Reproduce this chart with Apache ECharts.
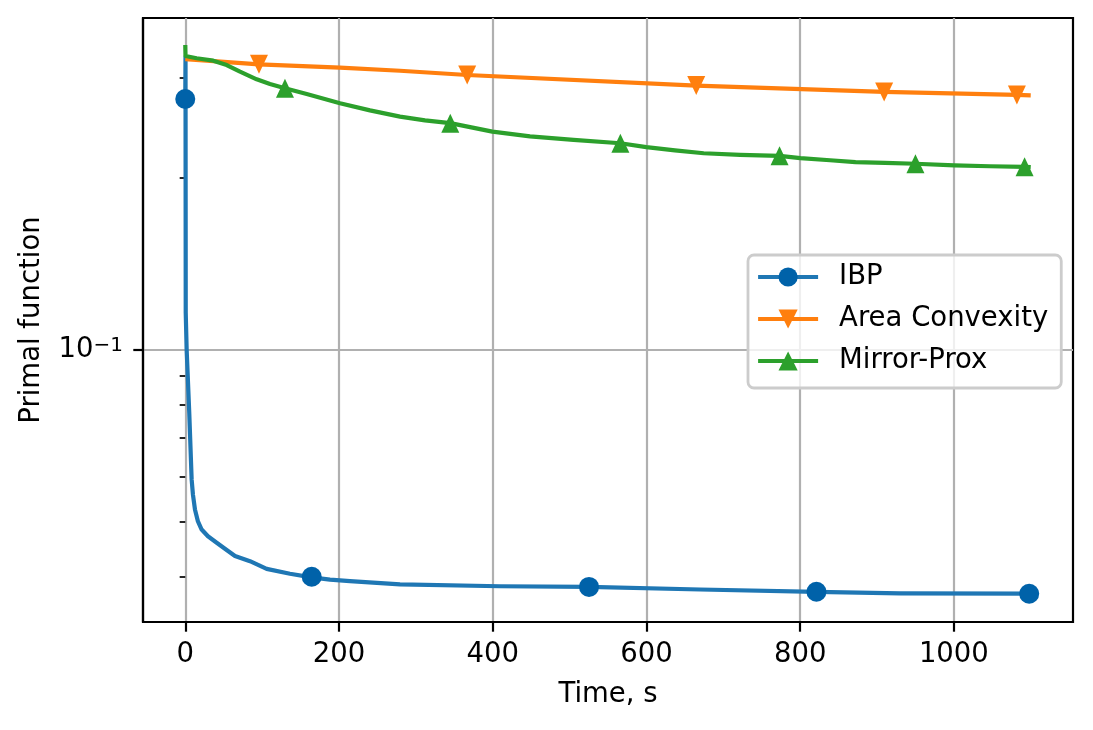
<!DOCTYPE html>
<html>
<head>
<meta charset="utf-8">
<script src="https://cdn.jsdelivr.net/npm/echarts@6/dist/echarts.min.js"></script>
<style>
html,body{margin:0;padding:0;background:#ffffff;}
#chart{width:1093px;height:730px;}
</style>
</head>
<body>
<div id="chart"></div>
<script>
// ---- data ----
const xTicks = [0, 200, 400, 600, 800, 1000];
const yMajorTicks = [0.1];
const yMinorTicks = [0.04, 0.05, 0.06, 0.07, 0.08, 0.09, 0.2, 0.3];

const ibpTime  = [0, 0.3, 0.6, 1.8, 5.2, 8.3, 10.0, 12.6, 16.5, 21.3, 29.5, 40.9, 51.6, 64.7, 84.2, 105.9, 136.2, 164.5, 188.3, 214.3, 279.4, 409.5, 525.3, 669.9, 821.2, 930, 1098];
const ibpValue = [0.275, 0.326, 0.116, 0.100, 0.0774, 0.0592, 0.0557, 0.0525, 0.0500, 0.0484, 0.0471, 0.0459, 0.0448, 0.0435, 0.0426, 0.0413, 0.0405, 0.0399, 0.03955, 0.0393, 0.0388, 0.0385, 0.0384, 0.0380, 0.03765, 0.0374, 0.03736];
const ibpMarkTime  = [0, 164.5, 525.3, 821.2, 1098];
const ibpMarkValue = [0.275, 0.0400, 0.0384, 0.03765, 0.03736];

const acTime  = [0, 27.8, 95.9, 201.3, 279.4, 366.8, 664.8, 909.3, 1082, 1100];
const acValue = [0.323, 0.3211, 0.3164, 0.3121, 0.3083, 0.3030, 0.2904, 0.2830, 0.2796, 0.2791];
const acMarkTime  = [95.9, 366.8, 664.8, 909.3, 1082];
const acMarkValue = [0.3164, 0.3030, 0.2904, 0.2830, 0.2796];

const mpTime  = [0, 0.3, 14.8, 36.4, 53.9, 71.2, 92.9, 110.2, 129.7, 158, 201.3, 240.3, 279.4, 311.9, 344.8, 399.6, 448.5, 505.1, 566.1, 599.9, 637.1, 674.5, 722, 773.2, 800.3, 838.9, 872, 910.4, 950, 1000.7, 1047, 1092, 1100];
const mpValue = [0.342, 0.3272, 0.3242, 0.3211, 0.3155, 0.3071, 0.2978, 0.2922, 0.2872, 0.2807, 0.2704, 0.2627, 0.2562, 0.2523, 0.2495, 0.2411, 0.2365, 0.2332, 0.2301, 0.2265, 0.2236, 0.2210, 0.2196, 0.2187, 0.2167, 0.2148, 0.2132, 0.2125, 0.2118, 0.2104, 0.2097, 0.2092, 0.2089];
const mpMarkTime  = [129.7, 344.8, 566.1, 773.2, 950, 1092];
const mpMarkValue = [0.2872, 0.2495, 0.2301, 0.2187, 0.2118, 0.2092];

const seriesNames = ['IBP', 'Area Convexity', 'Mirror-Prox'];

// ---- helpers ----
const zip = (xs, ys) => xs.map((x, i) => [x, ys[i]]);
const FONT = 'DejaVu Sans';
const FS = 27.5;

function lineSeries(name, xs, ys, color, markColor, symbol, rotate, size) {
  return {
    type: 'line', name: name, data: zip(xs, ys),
    showSymbol: false, symbol: symbol, symbolRotate: rotate, symbolSize: size,
    lineStyle: { color: color, width: 4.2, cap: 'butt', join: 'round' },
    itemStyle: { color: markColor, borderWidth: 0 },
    color: color, z: 2, animation: false, silent: true,
    emphasis: { disabled: true }
  };
}
function markSeries(name, xs, ys, markColor, symbol, rotate, size) {
  return {
    type: 'scatter', name: name, data: zip(xs, ys),
    symbol: symbol, symbolRotate: rotate, symbolSize: size,
    itemStyle: { color: markColor, borderWidth: 0, opacity: 1 },
    z: 3, animation: false, silent: true,
    emphasis: { disabled: true }
  };
}

const supFormatter = function (v) {
  const e = Math.round(Math.log10(v));
  const es = e < 0 ? '\u2212' + (-e) : String(e);
  return '{b|10}{s|' + es + '}';
};

const option = {
  animation: false,
  backgroundColor: '#ffffff',
  textStyle: { fontFamily: FONT, color: '#000' },
  grid: {
    left: 143, right: 20, top: 18, bottom: 108,
    show: true, borderColor: '#000', borderWidth: 2.2, backgroundColor: 'transparent',
    containLabel: false
  },
  legend: {
    orient: 'vertical', left: 748, top: 255,
    data: seriesNames,
    itemWidth: 60, itemHeight: 24, itemGap: 14,
    padding: [8, 13, 13, 8],
    backgroundColor: 'rgba(255,255,255,0.8)',
    borderColor: '#cccccc', borderWidth: 2.8, borderRadius: 6,
    lineStyle: { width: 4.2 },
    textStyle: { fontFamily: FONT, fontSize: FS, color: '#000', lineHeight: 28, padding: [0, 0, 0, 16] },
    selectedMode: false
  },
  xAxis: {
    type: 'value', min: -55, max: 1155,
    name: 'Time, s', nameLocation: 'middle', nameGap: 58.7,
    nameTextStyle: { fontFamily: FONT, fontSize: FS, color: '#000', lineHeight: 28 },
    axisLine: { show: true, onZero: false, lineStyle: { color: '#000', width: 2.2 } },
    axisTick: { show: true, customValues: xTicks, length: 9.7, lineStyle: { color: '#000', width: 2.2 } },
    axisLabel: { show: true, customValues: xTicks, margin: 19, fontFamily: FONT, fontSize: FS, color: '#000', lineHeight: 28,
                 formatter: function (v) { return String(v); } },
    splitLine: { show: true, lineStyle: { color: '#b0b0b0', width: 2.2 } },
    minorTick: { show: false }
  },
  yAxis: [
    {
      type: 'log', logBase: 10, min: 0.03333, max: 0.3814, position: 'left',
      name: 'Primal function', nameLocation: 'middle', nameGap: 97,
      nameTextStyle: { fontFamily: FONT, fontSize: FS, color: '#000', lineHeight: 28 },
      axisLine: { show: true, onZero: false, lineStyle: { color: '#000', width: 2.2 } },
      axisTick: { show: true, customValues: yMajorTicks, length: 9.7, lineStyle: { color: '#000', width: 2.2 } },
      axisLabel: {
        show: true, customValues: yMajorTicks, margin: 20, formatter: supFormatter,
        rich: {
          b: { fontFamily: FONT, fontSize: FS, color: '#000', lineHeight: 28 },
          s: { fontFamily: FONT, fontSize: 20, color: '#000', lineHeight: 12, verticalAlign: 'top' }
        }
      },
      splitLine: { show: true, lineStyle: { color: '#b0b0b0', width: 2.2 } }
    },
    {
      type: 'log', logBase: 10, min: 0.03333, max: 0.3814, position: 'left',
      axisLine: { show: false },
      axisTick: { show: true, customValues: yMinorTicks, length: 5.6, lineStyle: { color: '#000', width: 1.7 } },
      axisLabel: { show: false },
      splitLine: { show: false }
    }
  ],
  series: [
    lineSeries('IBP', ibpTime, ibpValue, '#1f77b4', '#0062a9', 'circle', 0, 20),
    markSeries('IBP', ibpMarkTime, ibpMarkValue, '#0062a9', 'circle', 0, 20),
    lineSeries('Area Convexity', acTime, acValue, '#ff7f0e', '#ff7f0e', 'triangle', 180, [18, 19]),
    markSeries('Area Convexity', acMarkTime, acMarkValue, '#ff7f0e', 'triangle', 180, [18, 19]),
    lineSeries('Mirror-Prox', mpTime, mpValue, '#2ca02c', '#2ca02c', 'triangle', 0, [18, 19]),
    markSeries('Mirror-Prox', mpMarkTime, mpMarkValue, '#2ca02c', 'triangle', 0, [18, 19])
  ]
};

const chart = echarts.init(document.getElementById('chart'), null, { renderer: 'canvas' });
chart.setOption(option);
</script>
</body>
</html>
